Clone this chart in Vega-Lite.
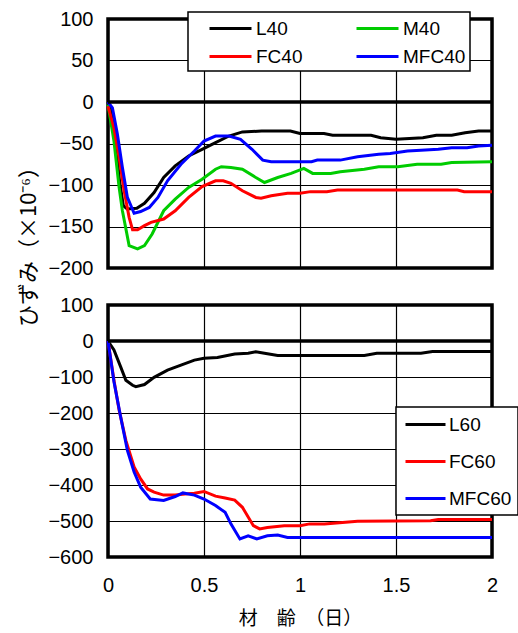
{
  "$schema": "https://vega.github.io/schema/vega-lite/v6.json",
  "padding": {"left": 15, "top": 7, "right": 0, "bottom": 0},
  "bounds": "flush",
  "config": {
    "font": "Liberation Sans",
    "view": {"stroke": "black", "strokeWidth": 3.5},
    "axis": {"grid": true, "gridColor": "black", "gridWidth": 1.2, "gridOpacity": 1, "ticks": false, "domain": false, "labelFont": "Liberation Sans", "labelFontSize": 20, "labelColor": "black", "labelOverlap": false},
    "legend": {"labelFont": "Liberation Sans", "labelFontSize": 19, "labelColor": "black", "fillColor": "white", "strokeColor": "black", "strokeWidth": 1.5, "symbolType": "M-2,0H2", "symbolStrokeWidth": 3, "symbolFillColor": "transparent", "labelBaseline": "middle"},
    "concat": {"spacing": 37}
  },
  "datasets": {
    "d": [
      {"panel":"top","series":"L40","day":0,"strain":0},
      {"panel":"top","series":"L40","day":0.02,"strain":-12},
      {"panel":"top","series":"L40","day":0.04,"strain":-50},
      {"panel":"top","series":"L40","day":0.06,"strain":-95},
      {"panel":"top","series":"L40","day":0.08,"strain":-125},
      {"panel":"top","series":"L40","day":0.1,"strain":-129},
      {"panel":"top","series":"L40","day":0.15,"strain":-128},
      {"panel":"top","series":"L40","day":0.19,"strain":-122},
      {"panel":"top","series":"L40","day":0.24,"strain":-109},
      {"panel":"top","series":"L40","day":0.29,"strain":-91},
      {"panel":"top","series":"L40","day":0.35,"strain":-77},
      {"panel":"top","series":"L40","day":0.42,"strain":-65},
      {"panel":"top","series":"L40","day":0.49,"strain":-57},
      {"panel":"top","series":"L40","day":0.56,"strain":-49},
      {"panel":"top","series":"L40","day":0.63,"strain":-41},
      {"panel":"top","series":"L40","day":0.7,"strain":-36},
      {"panel":"top","series":"L40","day":0.8,"strain":-35},
      {"panel":"top","series":"L40","day":0.95,"strain":-35},
      {"panel":"top","series":"L40","day":1.0,"strain":-38},
      {"panel":"top","series":"L40","day":1.125,"strain":-38},
      {"panel":"top","series":"L40","day":1.17,"strain":-40},
      {"panel":"top","series":"L40","day":1.37,"strain":-40},
      {"panel":"top","series":"L40","day":1.42,"strain":-43},
      {"panel":"top","series":"L40","day":1.5,"strain":-45},
      {"panel":"top","series":"L40","day":1.64,"strain":-43},
      {"panel":"top","series":"L40","day":1.71,"strain":-40},
      {"panel":"top","series":"L40","day":1.79,"strain":-40},
      {"panel":"top","series":"L40","day":1.86,"strain":-37},
      {"panel":"top","series":"L40","day":1.93,"strain":-35},
      {"panel":"top","series":"L40","day":2.0,"strain":-35},

      {"panel":"top","series":"M40","day":0,"strain":-3},
      {"panel":"top","series":"M40","day":0.031,"strain":-47},
      {"panel":"top","series":"M40","day":0.058,"strain":-103},
      {"panel":"top","series":"M40","day":0.075,"strain":-131},
      {"panel":"top","series":"M40","day":0.11,"strain":-173},
      {"panel":"top","series":"M40","day":0.154,"strain":-177},
      {"panel":"top","series":"M40","day":0.19,"strain":-173},
      {"panel":"top","series":"M40","day":0.23,"strain":-159},
      {"panel":"top","series":"M40","day":0.29,"strain":-131},
      {"panel":"top","series":"M40","day":0.35,"strain":-117},
      {"panel":"top","series":"M40","day":0.42,"strain":-103},
      {"panel":"top","series":"M40","day":0.49,"strain":-93},
      {"panel":"top","series":"M40","day":0.56,"strain":-81},
      {"panel":"top","series":"M40","day":0.59,"strain":-78},
      {"panel":"top","series":"M40","day":0.64,"strain":-79},
      {"panel":"top","series":"M40","day":0.7,"strain":-81},
      {"panel":"top","series":"M40","day":0.77,"strain":-91},
      {"panel":"top","series":"M40","day":0.815,"strain":-97},
      {"panel":"top","series":"M40","day":0.884,"strain":-91},
      {"panel":"top","series":"M40","day":0.954,"strain":-86},
      {"panel":"top","series":"M40","day":1.02,"strain":-80},
      {"panel":"top","series":"M40","day":1.066,"strain":-86},
      {"panel":"top","series":"M40","day":1.16,"strain":-86},
      {"panel":"top","series":"M40","day":1.21,"strain":-84},
      {"panel":"top","series":"M40","day":1.335,"strain":-81},
      {"panel":"top","series":"M40","day":1.41,"strain":-78},
      {"panel":"top","series":"M40","day":1.51,"strain":-78},
      {"panel":"top","series":"M40","day":1.61,"strain":-75},
      {"panel":"top","series":"M40","day":1.735,"strain":-75},
      {"panel":"top","series":"M40","day":1.79,"strain":-73},
      {"panel":"top","series":"M40","day":2.0,"strain":-72},

      {"panel":"top","series":"FC40","day":0,"strain":-5},
      {"panel":"top","series":"FC40","day":0.031,"strain":-31},
      {"panel":"top","series":"FC40","day":0.058,"strain":-67},
      {"panel":"top","series":"FC40","day":0.084,"strain":-107},
      {"panel":"top","series":"FC40","day":0.11,"strain":-139},
      {"panel":"top","series":"FC40","day":0.128,"strain":-154},
      {"panel":"top","series":"FC40","day":0.154,"strain":-154},
      {"panel":"top","series":"FC40","day":0.19,"strain":-149},
      {"panel":"top","series":"FC40","day":0.224,"strain":-145},
      {"panel":"top","series":"FC40","day":0.29,"strain":-141},
      {"panel":"top","series":"FC40","day":0.35,"strain":-131},
      {"panel":"top","series":"FC40","day":0.42,"strain":-115},
      {"panel":"top","series":"FC40","day":0.49,"strain":-102},
      {"panel":"top","series":"FC40","day":0.56,"strain":-95},
      {"panel":"top","series":"FC40","day":0.6,"strain":-95},
      {"panel":"top","series":"FC40","day":0.64,"strain":-98},
      {"panel":"top","series":"FC40","day":0.7,"strain":-107},
      {"panel":"top","series":"FC40","day":0.77,"strain":-115},
      {"panel":"top","series":"FC40","day":0.797,"strain":-116},
      {"panel":"top","series":"FC40","day":0.85,"strain":-113},
      {"panel":"top","series":"FC40","day":0.935,"strain":-110},
      {"panel":"top","series":"FC40","day":1.0,"strain":-110},
      {"panel":"top","series":"FC40","day":1.055,"strain":-108},
      {"panel":"top","series":"FC40","day":1.14,"strain":-108},
      {"panel":"top","series":"FC40","day":1.195,"strain":-106},
      {"panel":"top","series":"FC40","day":1.82,"strain":-106},
      {"panel":"top","series":"FC40","day":1.855,"strain":-108},
      {"panel":"top","series":"FC40","day":2.0,"strain":-108},

      {"panel":"top","series":"MFC40","day":0,"strain":0},
      {"panel":"top","series":"MFC40","day":0.023,"strain":-7},
      {"panel":"top","series":"MFC40","day":0.049,"strain":-39},
      {"panel":"top","series":"MFC40","day":0.075,"strain":-79},
      {"panel":"top","series":"MFC40","day":0.101,"strain":-115},
      {"panel":"top","series":"MFC40","day":0.136,"strain":-134},
      {"panel":"top","series":"MFC40","day":0.17,"strain":-132},
      {"panel":"top","series":"MFC40","day":0.215,"strain":-127},
      {"panel":"top","series":"MFC40","day":0.26,"strain":-115},
      {"panel":"top","series":"MFC40","day":0.31,"strain":-95},
      {"panel":"top","series":"MFC40","day":0.38,"strain":-75},
      {"panel":"top","series":"MFC40","day":0.45,"strain":-59},
      {"panel":"top","series":"MFC40","day":0.5,"strain":-47},
      {"panel":"top","series":"MFC40","day":0.56,"strain":-41},
      {"panel":"top","series":"MFC40","day":0.63,"strain":-41},
      {"panel":"top","series":"MFC40","day":0.69,"strain":-45},
      {"panel":"top","series":"MFC40","day":0.75,"strain":-57},
      {"panel":"top","series":"MFC40","day":0.806,"strain":-70},
      {"panel":"top","series":"MFC40","day":0.85,"strain":-72},
      {"panel":"top","series":"MFC40","day":1.06,"strain":-72},
      {"panel":"top","series":"MFC40","day":1.09,"strain":-70},
      {"panel":"top","series":"MFC40","day":1.21,"strain":-70},
      {"panel":"top","series":"MFC40","day":1.3,"strain":-66},
      {"panel":"top","series":"MFC40","day":1.41,"strain":-63},
      {"panel":"top","series":"MFC40","day":1.47,"strain":-62},
      {"panel":"top","series":"MFC40","day":1.56,"strain":-59},
      {"panel":"top","series":"MFC40","day":1.63,"strain":-58},
      {"panel":"top","series":"MFC40","day":1.72,"strain":-57},
      {"panel":"top","series":"MFC40","day":1.79,"strain":-55},
      {"panel":"top","series":"MFC40","day":1.87,"strain":-55},
      {"panel":"top","series":"MFC40","day":1.93,"strain":-53},
      {"panel":"top","series":"MFC40","day":2.0,"strain":-52},

      {"panel":"bottom","series":"L60","day":0,"strain":0},
      {"panel":"bottom","series":"L60","day":0.031,"strain":-25},
      {"panel":"bottom","series":"L60","day":0.066,"strain":-72},
      {"panel":"bottom","series":"L60","day":0.093,"strain":-109},
      {"panel":"bottom","series":"L60","day":0.128,"strain":-123},
      {"panel":"bottom","series":"L60","day":0.145,"strain":-127},
      {"panel":"bottom","series":"L60","day":0.19,"strain":-121},
      {"panel":"bottom","series":"L60","day":0.24,"strain":-101},
      {"panel":"bottom","series":"L60","day":0.31,"strain":-81},
      {"panel":"bottom","series":"L60","day":0.38,"strain":-67},
      {"panel":"bottom","series":"L60","day":0.45,"strain":-53},
      {"panel":"bottom","series":"L60","day":0.5,"strain":-48},
      {"panel":"bottom","series":"L60","day":0.57,"strain":-46},
      {"panel":"bottom","series":"L60","day":0.66,"strain":-36},
      {"panel":"bottom","series":"L60","day":0.73,"strain":-34},
      {"panel":"bottom","series":"L60","day":0.77,"strain":-30},
      {"panel":"bottom","series":"L60","day":0.815,"strain":-34},
      {"panel":"bottom","series":"L60","day":0.884,"strain":-40},
      {"panel":"bottom","series":"L60","day":1.0,"strain":-40},
      {"panel":"bottom","series":"L60","day":1.335,"strain":-40},
      {"panel":"bottom","series":"L60","day":1.4,"strain":-34},
      {"panel":"bottom","series":"L60","day":1.63,"strain":-34},
      {"panel":"bottom","series":"L60","day":1.69,"strain":-29},
      {"panel":"bottom","series":"L60","day":2.0,"strain":-29},

      {"panel":"bottom","series":"FC60","day":0,"strain":0},
      {"panel":"bottom","series":"FC60","day":0.031,"strain":-109},
      {"panel":"bottom","series":"FC60","day":0.058,"strain":-192},
      {"panel":"bottom","series":"FC60","day":0.093,"strain":-276},
      {"panel":"bottom","series":"FC60","day":0.136,"strain":-350},
      {"panel":"bottom","series":"FC60","day":0.17,"strain":-383},
      {"panel":"bottom","series":"FC60","day":0.206,"strain":-411},
      {"panel":"bottom","series":"FC60","day":0.24,"strain":-420},
      {"panel":"bottom","series":"FC60","day":0.29,"strain":-428},
      {"panel":"bottom","series":"FC60","day":0.35,"strain":-428},
      {"panel":"bottom","series":"FC60","day":0.4,"strain":-425},
      {"panel":"bottom","series":"FC60","day":0.45,"strain":-423},
      {"panel":"bottom","series":"FC60","day":0.5,"strain":-418},
      {"panel":"bottom","series":"FC60","day":0.56,"strain":-431},
      {"panel":"bottom","series":"FC60","day":0.61,"strain":-436},
      {"panel":"bottom","series":"FC60","day":0.66,"strain":-442},
      {"panel":"bottom","series":"FC60","day":0.7,"strain":-462},
      {"panel":"bottom","series":"FC60","day":0.757,"strain":-513},
      {"panel":"bottom","series":"FC60","day":0.79,"strain":-522},
      {"panel":"bottom","series":"FC60","day":0.83,"strain":-518},
      {"panel":"bottom","series":"FC60","day":0.918,"strain":-513},
      {"panel":"bottom","series":"FC60","day":1.0,"strain":-513},
      {"panel":"bottom","series":"FC60","day":1.05,"strain":-508},
      {"panel":"bottom","series":"FC60","day":1.127,"strain":-508},
      {"panel":"bottom","series":"FC60","day":1.3,"strain":-501},
      {"panel":"bottom","series":"FC60","day":1.68,"strain":-499},
      {"panel":"bottom","series":"FC60","day":1.72,"strain":-496},
      {"panel":"bottom","series":"FC60","day":2.0,"strain":-496},

      {"panel":"bottom","series":"MFC60","day":0,"strain":0},
      {"panel":"bottom","series":"MFC60","day":0.031,"strain":-113},
      {"panel":"bottom","series":"MFC60","day":0.066,"strain":-211},
      {"panel":"bottom","series":"MFC60","day":0.101,"strain":-304},
      {"panel":"bottom","series":"MFC60","day":0.136,"strain":-364},
      {"panel":"bottom","series":"MFC60","day":0.17,"strain":-406},
      {"panel":"bottom","series":"MFC60","day":0.22,"strain":-439},
      {"panel":"bottom","series":"MFC60","day":0.29,"strain":-443},
      {"panel":"bottom","series":"MFC60","day":0.35,"strain":-432},
      {"panel":"bottom","series":"MFC60","day":0.39,"strain":-422},
      {"panel":"bottom","series":"MFC60","day":0.45,"strain":-428},
      {"panel":"bottom","series":"MFC60","day":0.5,"strain":-439},
      {"panel":"bottom","series":"MFC60","day":0.56,"strain":-457},
      {"panel":"bottom","series":"MFC60","day":0.61,"strain":-476},
      {"panel":"bottom","series":"MFC60","day":0.64,"strain":-508},
      {"panel":"bottom","series":"MFC60","day":0.687,"strain":-550},
      {"panel":"bottom","series":"MFC60","day":0.73,"strain":-541},
      {"panel":"bottom","series":"MFC60","day":0.775,"strain":-550},
      {"panel":"bottom","series":"MFC60","day":0.83,"strain":-541},
      {"panel":"bottom","series":"MFC60","day":0.884,"strain":-539},
      {"panel":"bottom","series":"MFC60","day":0.935,"strain":-546},
      {"panel":"bottom","series":"MFC60","day":1.0,"strain":-546},
      {"panel":"bottom","series":"MFC60","day":2.0,"strain":-546}
    ]
  },
  "vconcat": [
    {
      "width": 384,
      "height": 249,
      "layer": [
        {
          "data": {"name": "d"},
          "transform": [{"filter": "datum.panel == 'top'"}],
          "mark": {"type": "line", "strokeWidth": 3},
          "encoding": {
            "x": {"field": "day", "type": "quantitative", "scale": {"domain": [0, 2], "nice": false}, "axis": {"values": [0, 0.5, 1, 1.5, 2], "labels": false, "title": null}},
            "y": {"field": "strain", "type": "quantitative", "scale": {"domain": [-200, 100], "nice": false, "zero": false},
                  "axis": {"values": [-200, -150, -100, -50, 0, 50, 100], "labelOverlap": false, "labelPadding": 15, "title": "ひずみ（×10⁻⁶）", "titleFont": "Noto Sans CJK JP", "titleFontSize": 22, "titleFontWeight": "normal", "titleColor": "black", "titleAngle": -90, "titleX": -80, "titleY": 222, "titleAlign": "center", "titleBaseline": "middle"}},
            "color": {"field": "series", "type": "nominal",
                      "scale": {"domain": ["L40", "M40", "FC40", "MFC40"], "range": ["#000000", "#00cc00", "#ff0000", "#0000ff"]},
                      "legend": {"title": null, "orient": "none", "legendX": 80, "legendY": -7, "direction": "horizontal", "columns": 2, "columnPadding": 37, "rowPadding": 6, "padding": 4.5, "symbolOffset": 26, "labelOffset": 13.5, "symbolSize": 441}}
          }
        },
        {
          "data": {"values": [{"strain": 0}]},
          "mark": {"type": "rule", "color": "black", "strokeWidth": 3.5},
          "encoding": {"y": {"field": "strain", "type": "quantitative",
                  "axis": {"values": [-200, -150, -100, -50, 0, 50, 100], "labelOverlap": false, "labelPadding": 15, "title": "ひずみ（×10⁻⁶）", "titleFont": "Noto Sans CJK JP", "titleFontSize": 22, "titleFontWeight": "normal", "titleColor": "black", "titleAngle": -90, "titleX": -80, "titleY": 222, "titleAlign": "center", "titleBaseline": "middle"}}}
        }
      ]
    },
    {
      "width": 384,
      "height": 252,
      "layer": [
        {
          "data": {"name": "d"},
          "transform": [{"filter": "datum.panel == 'bottom'"}],
          "mark": {"type": "line", "strokeWidth": 3},
          "encoding": {
            "x": {"field": "day", "type": "quantitative", "scale": {"domain": [0, 2], "nice": false},
                  "axis": {"values": [0, 0.5, 1, 1.5, 2], "format": "~g", "labelFlush": false, "labelPadding": 18, "title": "材　齢　（日）", "titleFont": "Noto Sans CJK JP", "titleFontSize": 19, "titleFontWeight": "normal", "titleColor": "black", "titlePadding": 14}},
            "y": {"field": "strain", "type": "quantitative", "scale": {"domain": [-600, 100], "nice": false, "zero": false},
                  "axis": {"values": [-600, -500, -400, -300, -200, -100, 0, 100], "labelOverlap": false, "labelPadding": 15, "title": null}},
            "color": {"field": "series", "type": "nominal",
                      "scale": {"domain": ["L60", "FC60", "MFC60"], "range": ["#000000", "#ff0000", "#0000ff"]},
                      "legend": {"title": null, "orient": "none", "legendX": 288, "legendY": 102, "columns": 1, "rowPadding": 15, "padding": 6, "symbolOffset": 12, "labelOffset": 12, "symbolSize": 400}}
          }
        },
        {
          "data": {"values": [{"strain": 0}]},
          "mark": {"type": "rule", "color": "black", "strokeWidth": 3.5},
          "encoding": {"y": {"field": "strain", "type": "quantitative",
                  "axis": {"values": [-600, -500, -400, -300, -200, -100, 0, 100], "labelOverlap": false, "labelPadding": 15, "title": null}}}
        }
      ]
    }
  ],
  "resolve": {"scale": {"color": "independent"}, "legend": {"color": "independent"}}
}
